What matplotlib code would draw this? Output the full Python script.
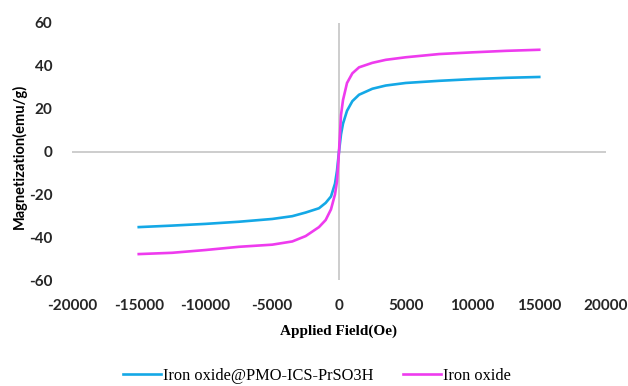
import numpy as np
import matplotlib
matplotlib.use("Agg")
import matplotlib.pyplot as plt

plt.rcParams["axes.unicode_minus"] = False

# Applied field (Oe) and magnetization (emu/g)
field = [-15000, -12500, -10000, -7500, -5000, -3500, -2500, -1500, -1000, -600, -300, -150, 0,
         150, 300, 600, 1000, 1500, 2500, 3500, 5000, 7500, 10000, 12500, 15000]
coated = [-35.3, -34.6, -33.8, -32.8, -31.5, -30.2, -28.5, -26.5, -24.0, -21.0, -15.0, -9.0, 0.0,
          8.0, 13.0, 19.0, 23.5, 26.5, 29.3, 30.8, 32.0, 33.0, 33.8, 34.4, 34.8]
bare = [-47.9, -47.3, -46.0, -44.5, -43.5, -42.0, -39.5, -35.3, -32.0, -27.0, -20.0, -14.0, 0.0,
        17.0, 24.0, 32.0, 36.5, 39.3, 41.4, 42.8, 44.0, 45.5, 46.3, 47.0, 47.5]

series_names = ["Iron oxide@PMO-ICS-PrSO3H", "Iron oxide"]
series_colors = ["#14A8E6", "#EE3BEE"]

xticks = range(-20000, 20001, 5000)
yticks = range(-60, 61, 20)

fig = plt.figure(figsize=(6.28, 3.86), dpi=100)
ax = fig.add_axes([72 / 628, 1 - 280 / 386, 534 / 628, 257 / 386])

# axis lines through the origin
ax.axhline(0, color="#C9C9C9", lw=1.3, zorder=1)
ax.axvline(0, color="#C9C9C9", lw=1.3, zorder=1)

for vals, name, col in zip([coated, bare], series_names, series_colors):
    ax.plot(field, vals, color=col, lw=1.9, label=name, zorder=3)

ax.set_xlim(-20000, 20000)
ax.set_ylim(-60, 60)
ax.set_xticks(list(xticks))
ax.set_yticks(list(yticks))
for s in ax.spines.values():
    s.set_visible(False)
ax.tick_params(length=0, labelsize=11, labelcolor="#262626")
ax.tick_params(axis="x", pad=14)
ax.tick_params(axis="y", pad=14)
for lab in ax.get_xticklabels() + ax.get_yticklabels():
    lab.set_family("Lato")
    lab.set_fontweight("bold")

ax.set_xlabel("Applied Field(Oe)", family="Liberation Serif", fontweight="bold",
              fontsize=11, labelpad=8)
ax.set_ylabel("Magnetization(emu/g)", family="Lato", fontweight="bold",
              fontsize=10.5)
ax.yaxis.set_label_coords(-45 / 534, 0.48)

fig.legend(loc="center", bbox_to_anchor=(317 / 628, 1 - 376 / 386), ncol=2,
           frameon=False, prop={"family": "Liberation Serif", "size": 11.8},
           handlelength=2.3, handletextpad=0.15, columnspacing=1.8)

fig.savefig("out.png", dpi=100)
